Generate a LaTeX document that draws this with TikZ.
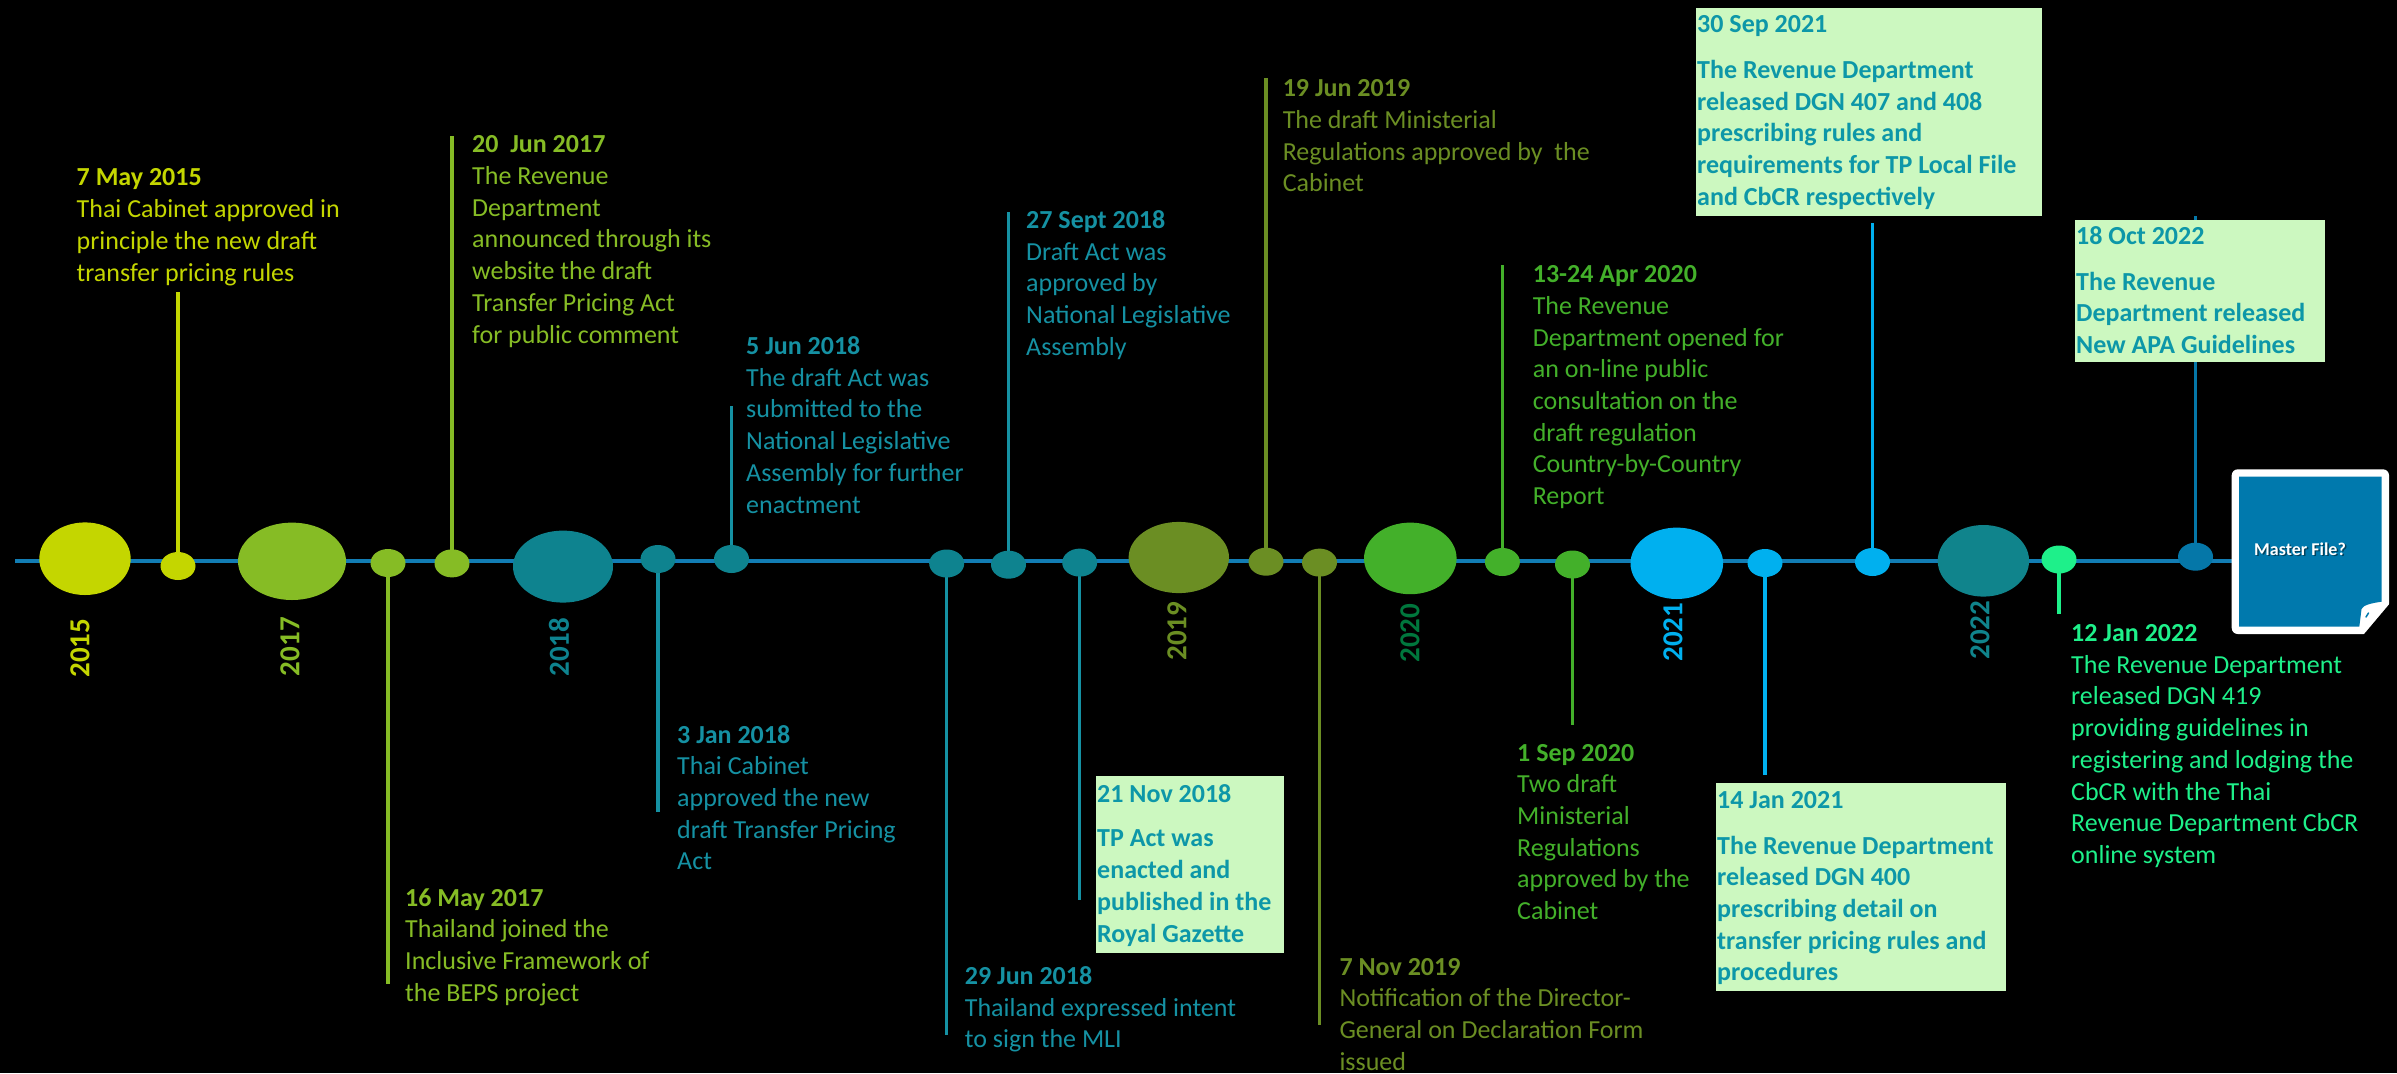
\documentclass[tikz,border=0pt]{standalone}
\usepackage{fontspec}
\setmainfont{Carlito}
\usetikzlibrary{shapes.geometric}
\pgfdeclarelayer{bg}
\pgfdeclarelayer{lines}
\pgfsetlayers{bg,lines,main}

\definecolor{c2015}{HTML}{C4D600}
\definecolor{c2017}{HTML}{86BC25}
\definecolor{cteal}{HTML}{0E838F}
\definecolor{tealtext}{HTML}{1591A3}
\definecolor{colive}{HTML}{6B8E23}
\definecolor{c2020}{HTML}{43B02A}
\definecolor{y2020}{HTML}{00773D}
\definecolor{c2021}{HTML}{00B0EF}
\definecolor{c2022}{HTML}{10848C}
\definecolor{cmint}{HTML}{1EF08A}
\definecolor{coct}{HTML}{0577A8}
\definecolor{axisblue}{HTML}{127DB4}
\definecolor{boxfill}{HTML}{CCF8C0}
\definecolor{boxtext}{HTML}{0D97A8}
\definecolor{mfblue}{HTML}{0079AD}

\tikzset{
  evtext/.style={anchor=north west, inner sep=0pt, align=left, yshift=22.19bp,
    font=\fontsize{26bp}{31.7bp}\selectfont},
  boxtxt/.style={evtext, text=boxtext,
    font=\fontsize{26bp}{31.7bp}\selectfont\bfseries},
  notebox/.style={fill=boxfill, inner sep=0pt, anchor=north west},
  yearlbl/.style={rotate=90, inner sep=0pt,
    font=\fontsize{29bp}{34bp}\selectfont\bfseries},
  dot/.style={ellipse, inner sep=0pt, minimum width=35bp, minimum height=28bp},
  yeardot/.style={ellipse, inner sep=0pt},
  stem/.style={line width=3.5bp},
  axisline/.style={line width=4.5bp, draw=axisblue},
}

\begin{document}
\begin{tikzpicture}[x=1bp, y=-1bp]
\begin{pgfonlayer}{bg}
  \fill[black] (0,0) rectangle (2397,1073);
\end{pgfonlayer}
\useasboundingbox (0,0) rectangle (2397,1073);

% year ellipses
\node[yeardot, fill=c2015, minimum width=91.4bp, minimum height=72.6bp] (e2015) at (85,558.7) {};
\node[yeardot, fill=c2017, minimum width=108bp, minimum height=77.4bp] (e2017) at (292,561.3) {};
\node[yeardot, fill=cteal, minimum width=100bp, minimum height=72bp] (e2018) at (563,566.6) {};
\node[yeardot, fill=colive, minimum width=100.4bp, minimum height=71.2bp] (e2019) at (1178.8,557.5) {};
\node[yeardot, fill=c2020, minimum width=92.6bp, minimum height=71.6bp] (e2020) at (1410.3,558.4) {};
\node[yeardot, fill=c2021, minimum width=92.6bp, minimum height=71.4bp] (e2021) at (1676.8,563.3) {};
\node[yeardot, fill=c2022, minimum width=91.4bp, minimum height=71.6bp] (e2022) at (1983.4,560.8) {};

% year labels
\node[yearlbl, text=c2015] (l2015) at (80,648) {2015};
\node[yearlbl, text=c2017] (l2017) at (290,646.6) {2017};
\node[yearlbl, text=cteal] (l2018) at (559,647) {2018};
\node[yearlbl, text=colive] (l2019) at (1177,631) {2019};
\node[yearlbl, text=y2020] (l2020) at (1410,633) {2020};
\node[yearlbl, text=c2021] (l2021) at (1673,632) {2021};
\node[yearlbl, text=c2022] (l2022) at (1980,630) {2022};

% event dots
\node[dot, fill=c2015]  (d1)  at (178,566) {};
\node[dot, fill=c2017]  (d2)  at (388,563) {};
\node[dot, fill=c2017]  (d3)  at (452,563.4) {};
\node[dot, fill=cteal]  (d4)  at (658,559) {};
\node[dot, fill=cteal]  (d5)  at (731.5,559) {};
\node[dot, fill=cteal]  (d6)  at (946.7,563.5) {};
\node[dot, fill=cteal]  (d7)  at (1008.5,564.7) {};
\node[dot, fill=cteal]  (d8)  at (1079.7,562.6) {};
\node[dot, fill=colive] (d9)  at (1266,561.7) {};
\node[dot, fill=colive] (d10) at (1319.5,562.6) {};
\node[dot, fill=c2020]  (d11) at (1502.4,562) {};
\node[dot, fill=c2020]  (d12) at (1572.5,564.5) {};
\node[dot, fill=c2021]  (d13) at (1765,563) {};
\node[dot, fill=c2021]  (d14) at (1872.5,562) {};
\node[dot, fill=cmint]  (d15) at (2059,559.5) {};
\node[dot, fill=coct]   (d16) at (2195.5,556.7) {};

% free ends of the stems
\coordinate (s1)  at (178,291.7);
\coordinate (s2)  at (388,984);
\coordinate (s3)  at (452,136);
\coordinate (s4)  at (658,812);
\coordinate (s5)  at (731.5,406);
\coordinate (s6)  at (946.7,1035);
\coordinate (s7)  at (1008.5,212);
\coordinate (s8)  at (1079.7,900);
\coordinate (s9)  at (1266,78);
\coordinate (s10) at (1319.5,1024.5);
\coordinate (s11) at (1502.4,265);
\coordinate (s12) at (1572.5,724.5);
\coordinate (s13) at (1765,774.5);
\coordinate (s14) at (1872.5,223);
\coordinate (s15) at (2059,614);
\coordinate (s16) at (2195.5,216);
\coordinate (tlstart) at (15,561);

% plain event texts above the line
\node[evtext, text=c2015] (t1) at (76.5,185.7)
  {\strut\textbf{7 May 2015}\\Thai Cabinet approved in\\principle the new draft\\transfer pricing rules};
\node[evtext, text=c2017] (t2) at (472,152.6)
  {\strut\textbf{20~~Jun 2017}\\The Revenue\\Department\\announced through its\\website the draft\\Transfer Pricing Act\\for public comment};
\node[evtext, text=tealtext] (t3) at (746,354.3)
  {\strut\textbf{5 Jun 2018}\\The draft Act was\\submitted to the\\National Legislative\\Assembly for further\\enactment};
\node[evtext, text=tealtext] (t4) at (1026,228.3)
  {\strut\textbf{27 Sept 2018}\\Draft Act was\\approved by\\National Legislative\\Assembly};
\node[evtext, text=colive] (t5) at (1282.6,96.5)
  {\strut\textbf{19 Jun 2019}\\The draft Ministerial\\Regulations approved by~~the\\Cabinet};
\node[evtext, text=c2020] (t6) at (1532.6,282.5)
  {\strut\textbf{13-24 Apr 2020}\\The Revenue\\Department opened for\\an on-line public\\consultation on the\\draft regulation\\Country-by-Country\\Report};

% plain event texts below the line
\node[evtext, text=c2017] (t9) at (405,906)
  {\strut\textbf{16 May 2017}\\Thailand joined the\\Inclusive Framework of\\the BEPS project};
\node[evtext, text=tealtext] (t10) at (677,742.9)
  {\strut\textbf{3 Jan 2018}\\Thai Cabinet\\approved the new\\draft Transfer Pricing\\Act};
\node[evtext, text=tealtext] (t11) at (964.7,984.3)
  {\strut\textbf{29 Jun 2018}\\Thailand expressed intent\\to sign the MLI};
\node[evtext, text=colive] (t13) at (1339.3,975)
  {\strut\textbf{7 Nov 2019}\\Notification of the Director-\\General on Declaration Form\\issued};
\node[evtext, text=c2020] (t14) at (1517,760.8)
  {\strut\textbf{1 Sep 2020}\\Two draft\\Ministerial\\Regulations\\approved by the\\Cabinet};
\node[evtext, text=cmint] (t16) at (2071,641.3)
  {\strut\textbf{12 Jan 2022}\\The Revenue Department\\released DGN 419\\providing guidelines in\\registering and lodging the\\CbCR with the Thai\\Revenue Department CbCR\\online system};

% highlighted notes
\node[notebox, minimum width=346.5bp, minimum height=208bp] (b1) at (1695.5,7.7) {};
\node[boxtxt] (bt1) at (1697,32.3)
  {\strut 30 Sep 2021\\[14.3bp]The Revenue Department\\released DGN 407 and 408\\prescribing rules and\\requirements for TP Local File\\and CbCR respectively};
\node[notebox, minimum width=249.7bp, minimum height=142bp] (b2) at (2075,219.3) {};
\node[boxtxt] (bt2) at (2076,243.9)
  {\strut 18 Oct 2022\\[14.3bp]The Revenue\\Department released\\New APA Guidelines};
\node[notebox, minimum width=188bp, minimum height=177bp] (b3) at (1095.5,775.5) {};
\node[boxtxt] (bt3) at (1097,802.2)
  {\strut 21 Nov 2018\\[12.8bp]TP Act was\\enacted and\\published in the\\Royal Gazette};
\node[notebox, minimum width=290bp, minimum height=208bp] (b4) at (1715.5,783) {};
\node[boxtxt] (bt4) at (1717,807.8)
  {\strut 14 Jan 2021\\[14.3bp]The Revenue Department\\released DGN 400\\prescribing detail on\\transfer pricing rules and\\procedures};

% Master File sheet with a curled corner
\node[fill=white, rounded corners=6bp, minimum width=157.3bp, minimum height=164.7bp, inner sep=0pt] (mf) at (2310.35,551.65) {};
\fill[black] (2390,603.3) -- (2390,635) -- (2363.3,635) -- cycle;
\fill[mfblue] (2239,476.7) -- (2381.7,476.7) -- (2381.7,601.7)
  .. controls (2372,603) and (2363,605) .. (2361.5,609) -- (2359.3,626.7) -- (2239,626.7) -- cycle;
\draw[mfblue, line width=1.5bp, line cap=round] (2366,617) -- (2368.5,613);
\node[text=black, opacity=.45, inner sep=0pt, font=\fontsize{18bp}{22bp}\selectfont\bfseries] (mfshadow) at (2301.5,550.5) {Master File?};
\node[text=white, inner sep=0pt, font=\fontsize{18bp}{22bp}\selectfont\bfseries] (mflabel) at (2300,549) {Master File?};

% axis and stems behind the dots
\begin{pgfonlayer}{lines}
  \draw[axisline] (tlstart) -- (tlstart -| mf.west);
  \draw[stem, c2015]    (d1.center)  -- (s1);
  \draw[stem, c2017]    (d2.center)  -- (s2);
  \draw[stem, c2017]    (d3.center)  -- (s3);
  \draw[stem, tealtext] (d4.center)  -- (s4);
  \draw[stem, tealtext] (d5.center)  -- (s5);
  \draw[stem, tealtext] (d6.center)  -- (s6);
  \draw[stem, tealtext] (d7.center)  -- (s7);
  \draw[stem, tealtext] (d8.center)  -- (s8);
  \draw[stem, colive]   (d9.center)  -- (s9);
  \draw[stem, colive]   (d10.center) -- (s10);
  \draw[stem, c2020]    (d11.center) -- (s11);
  \draw[stem, c2020]    (d12.center) -- (s12);
  \draw[stem, c2021]    (d13.center) -- (s13);
  \draw[stem, c2021]    (d14.center) -- (s14);
  \draw[stem, cmint]    (d15.center) -- (s15);
  \draw[stem, coct]     (d16.center) -- (s16);
\end{pgfonlayer}
\end{tikzpicture}
\end{document}
